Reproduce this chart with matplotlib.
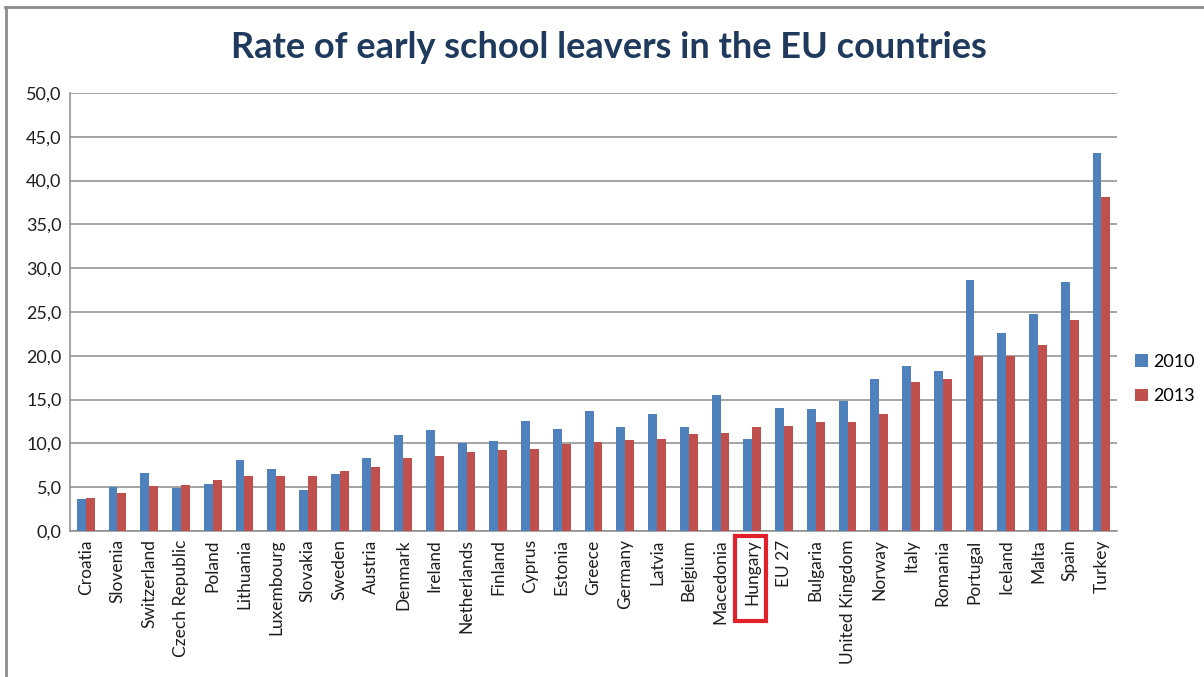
import matplotlib.pyplot as plt
import numpy as np
from matplotlib.patches import Rectangle
from matplotlib.lines import Line2D

countries = ["Croatia", "Slovenia", "Switzerland", "Czech Republic", "Poland",
             "Lithuania", "Luxembourg", "Slovakia", "Sweden", "Austria",
             "Denmark", "Ireland", "Netherlands", "Finland", "Cyprus",
             "Estonia", "Greece", "Germany", "Latvia", "Belgium",
             "Macedonia", "Hungary", "EU 27", "Bulgaria", "United Kingdom",
             "Norway", "Italy", "Romania", "Portugal", "Iceland",
             "Malta", "Spain", "Turkey"]
rate_2010 = [3.7, 5.0, 6.6, 4.9, 5.4, 8.1, 7.1, 4.7, 6.5, 8.3,
             11.0, 11.5, 10.0, 10.3, 12.6, 11.6, 13.7, 11.9, 13.3, 11.9,
             15.5, 10.5, 14.0, 13.9, 14.8, 17.4, 18.8, 18.3, 28.7, 22.6,
             24.8, 28.4, 43.1]
rate_2013 = [3.8, 4.3, 5.1, 5.3, 5.8, 6.3, 6.3, 6.3, 6.8, 7.3,
             8.3, 8.6, 9.0, 9.2, 9.4, 9.9, 10.2, 10.4, 10.5, 11.1,
             11.2, 11.9, 12.0, 12.4, 12.4, 13.3, 17.0, 17.4, 20.0, 20.0,
             21.2, 24.1, 38.1]
years = ["2010", "2013"]
y_ticks = [0, 5, 10, 15, 20, 25, 30, 35, 40, 45, 50]

blue = "#4F81BD"
red = "#C0504D"
grid_col = "#8C8C8C"
font = "Lato"

fig = plt.figure(figsize=(12.04, 6.77), dpi=100)
ax = fig.add_axes([0.058, 0.2157, 0.870, 0.647])

x = np.arange(len(countries))
w = 0.28
ax.bar(x - w / 2, rate_2010, w, color=blue, label=years[0], zorder=3)
ax.bar(x + w / 2, rate_2013, w, color=red, label=years[1], zorder=3)

ax.set_xlim(-0.5, len(countries) - 0.5)
ax.set_ylim(0, 50)
ax.set_yticks(y_ticks)
ax.set_yticklabels([f"{v:.1f}".replace(".", ",") for v in y_ticks],
                   fontsize=13, fontfamily=font, color="#1E1E1E")
ax.set_xticks(x)
ax.set_xticklabels(countries, rotation=90, fontsize=12.5,
                   fontfamily=font, color="#1E1E1E")
ax.tick_params(length=0, pad=6)
ax.yaxis.grid(True, color=grid_col, linewidth=1.1, zorder=0)
for side in ["top", "right"]:
    ax.spines[side].set_visible(False)
for side in ["left", "bottom"]:
    ax.spines[side].set_color(grid_col)
    ax.spines[side].set_linewidth(1.1)

# box around Hungary's label
fig.add_artist(Rectangle((735 / 1204, 1 - 621 / 677), 31 / 1204, 85 / 677,
                         transform=fig.transFigure, fill=False,
                         edgecolor="#E2202C", linewidth=3))

leg = fig.legend(loc="center left", bbox_to_anchor=(0.943, 0.44),
                 frameon=False, prop={"family": font, "size": 13},
                 handlelength=0.7, handleheight=0.7, handletextpad=0.3,
                 labelspacing=1.0, borderaxespad=0, borderpad=0)

fig.text(0.506, 0.93, "Rate of early school leavers in the EU countries",
         ha="center", va="center", fontsize=26, fontweight="bold",
         fontfamily=font, color="#1F3A5C")

# outer chart frame
fig.add_artist(Line2D([5 / 1204, 1], [1 - 7 / 677, 1 - 7 / 677],
                      transform=fig.transFigure, color="#8C8C8C", linewidth=2))
fig.add_artist(Line2D([5.5 / 1204, 5.5 / 1204], [0, 1 - 7 / 677],
                      transform=fig.transFigure, color="#8C8C8C", linewidth=2))

fig.savefig("out.png", dpi=100, facecolor="white")
